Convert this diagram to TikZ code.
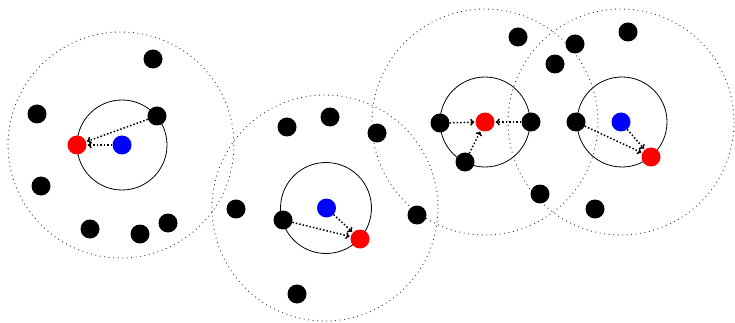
\documentclass[tikz,border=0pt]{standalone}
\usetikzlibrary{arrows.meta}
\begin{document}
\begin{tikzpicture}[x=1pt,y=-1pt,
  dot/.style={circle,fill=black,minimum size=19pt,inner sep=0pt},
  bluedot/.style={dot,fill=blue},
  reddot/.style={dot,fill=red},
  bigring/.style={draw=black!80,line width=0.9pt,dash pattern=on 0.9pt off 3.6pt},
  smallring/.style={draw=black,line width=0.8pt},
  move/.style={-{To[length=4pt,width=7pt]},line width=1.5pt,dash pattern=on 1.5pt off 2pt,shorten >=1pt}]
\useasboundingbox (0,0) rectangle (735,323);
% big dotted rings
\draw[bigring] (121,145) circle (113);
\draw[bigring] (325,208) circle (113);
\draw[bigring] (485,122) circle (113);
\draw[bigring] (621,122) circle (113);
% small rings
\draw[smallring] (122,145) circle (45);
\draw[smallring] (326,208) circle (45.5);
\draw[smallring] (485,122) circle (45);
\draw[smallring] (622,122) circle (45);
% group 1
\node[bluedot] (b1) at (122,145) {};
\node[reddot] (r1) at (77,145) {};
\node[dot] (a1) at (153,59) {};
\node[dot] (a2) at (37,114) {};
\node[dot] (a3) at (157,116) {};
\node[dot] (a4) at (41,186) {};
\node[dot] (a5) at (90,229) {};
\node[dot] (a6) at (140,234) {};
\node[dot] (a7) at (168,223) {};
% group 2
\node[bluedot] (b2) at (326.5,208) {};
\node[reddot] (r2) at (360,239) {};
\node[dot] (c1) at (287,127) {};
\node[dot] (c2) at (330,117) {};
\node[dot] (c3) at (377,133) {};
\node[dot] (c4) at (236,209) {};
\node[dot] (c5) at (283,220) {};
\node[dot] (c6) at (417,215) {};
\node[dot] (c7) at (297,294) {};
% group 3
\node[reddot] (r3) at (485,122) {};
\node[dot] (d1) at (440,123) {};
\node[dot] (d2) at (531,122) {};
\node[dot] (d3) at (465,162) {};
\node[dot] (d4) at (518,37) {};
\node[dot] (d5) at (555,64) {};
\node[dot] (d6) at (540,194) {};
% group 4
\node[bluedot] (b4) at (621,122) {};
\node[reddot] (r4) at (651,157) {};
\node[dot] (e1) at (576,122) {};
\node[dot] (e2) at (628,32) {};
\node[dot] (e3) at (575,44) {};
\node[dot] (e4) at (595,209) {};
% arrows
\draw[move] (a3) -- (r1);
\draw[move] (b1) -- (r1);
\draw[move] (c5) -- (r2);
\draw[move] (b2) -- (r2);
\draw[move] (d1) -- (r3);
\draw[move] (d2) -- (r3);
\draw[move] (d3) -- (r3);
\draw[move] (e1) -- (r4);
\draw[move] (b4) -- (r4);
\end{tikzpicture}
\end{document}
